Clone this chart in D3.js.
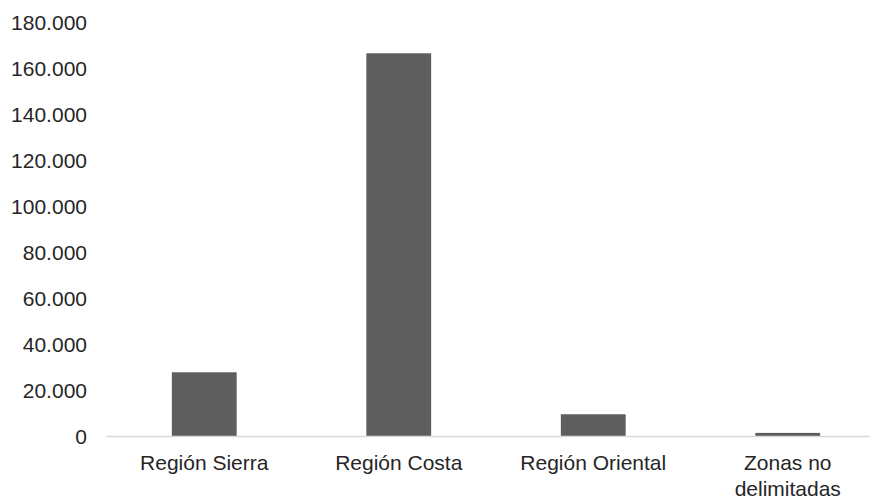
<!DOCTYPE html>
<html><head><meta charset="utf-8">
<script src="https://cdn.jsdelivr.net/npm/d3@7"></script>
<style>
html,body{margin:0;padding:0;background:#fff;}
text{font-family:"Liberation Sans",Arial,sans-serif;}
</style></head>
<body><svg id="c" width="872" height="499"></svg>
<script>
const categories = [["Región Sierra"], ["Región Costa"], ["Región Oriental"], ["Zonas no", "delimitadas"]];
const values = [27700, 166400, 9450, 1350];
const yTicks = [0, 20000, 40000, 60000, 80000, 100000, 120000, 140000, 160000, 180000];

const svg = d3.select("#c");
const x = d3.scaleBand().domain(d3.range(categories.length)).range([107, 885]).paddingInner(2/3).paddingOuter(1/3);
const y = d3.scaleLinear().domain([0, 180000]).range([436, 22]);
const fmt = v => d3.format(",")(v).replace(/,/g, ".");

// y tick labels
svg.append("g").selectAll("text").data(yTicks).join("text")
  .attr("x", 87).attr("y", d => y(d)).attr("dy", "0.36em")
  .attr("text-anchor", "end").attr("font-size", 21).attr("fill", "#262626")
  .text(fmt);

// bars
svg.append("g").selectAll("rect").data(values).join("rect")
  .attr("x", (d, i) => x(i)).attr("width", x.bandwidth())
  .attr("y", d => y(d)).attr("height", d => y(0) - y(d))
  .attr("fill", "#5e5e5e");

// baseline
svg.append("line").attr("x1", 106).attr("x2", 870).attr("y1", y(0) + 0.5).attr("y2", y(0) + 0.5)
  .attr("stroke", "#d9d9d9").attr("stroke-width", 1.5);

// category labels
const lab = svg.append("g").selectAll("text").data(categories).join("text")
  .attr("text-anchor", "middle").attr("font-size", 21).attr("fill", "#262626")
  .attr("transform", (d, i) => `translate(${x(i) + x.bandwidth() / 2},470)`);
lab.selectAll("tspan").data(d => d).join("tspan")
  .attr("x", 0).attr("dy", (d, j) => j === 0 ? 0 : 26).text(d => d);
</script></body></html>
